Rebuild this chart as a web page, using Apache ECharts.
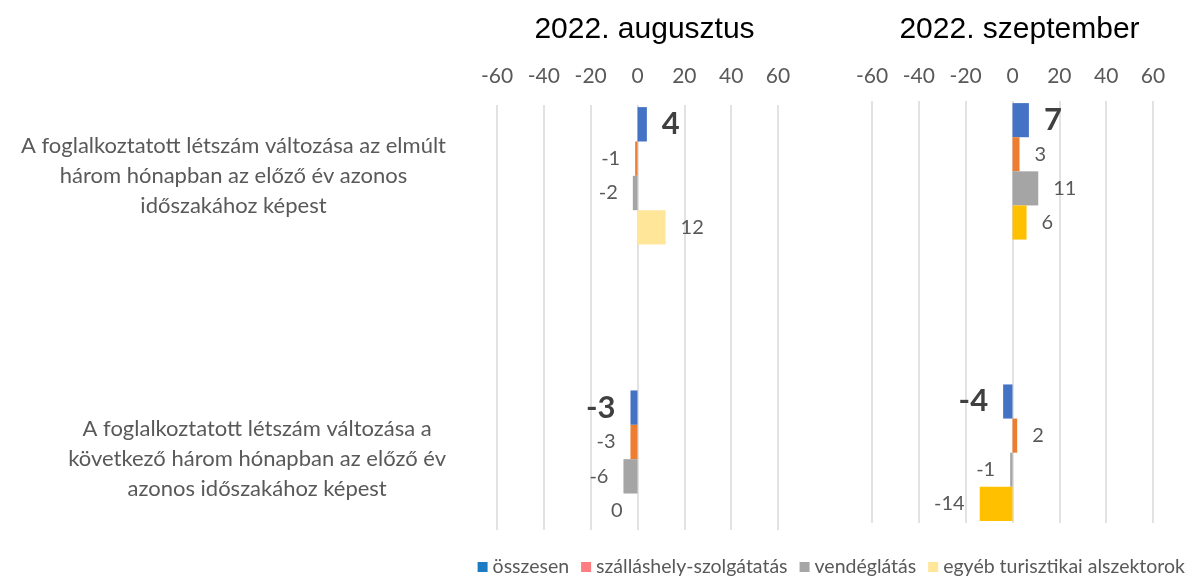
<!DOCTYPE html>
<html>
<head>
<meta charset="utf-8">
<script src="https://cdn.jsdelivr.net/npm/echarts@6/dist/echarts.min.js"></script>
<style>
html, body { margin: 0; padding: 0; background: #fff; }
#showChart { width: 1198px; height: 576px; }
</style>
</head>
<body>
<div id="showChart"></div>
<script>
var chartOutChar = null;

// kategóriák (a középső üres sor választja el a két csoportot)
var categories = [
    'A foglalkoztatott létszám változása az elmúlt\nhárom hónapban az előző év azonos\nidőszakához képest',
    '',
    'A foglalkoztatott létszám változása a\nkövetkező három hónapban az előző év\nazonos időszakához képest'
];
var periods = ['2022. augusztus', '2022. szeptember'];
var seriesNames = ['összesen', 'szálláshely-szolgátatás', 'vendéglátás', 'egyéb turisztikai alszektorok'];
var xTicks = [-60, -40, -20, 0, 20, 40, 60];

// augusztus
var augOsszesen = [4, null, -3];
var augSzallas = [-1, null, -3];
var augVendeg = [-2, null, -6];
var augEgyeb = [12, null, 0];
// szeptember
var szepOsszesen = [7, null, -4];
var szepSzallas = [3, null, 2];
var szepVendeg = [11, null, -1];
var szepEgyeb = [6, null, -14];

var barColors = [
    ['#4472C4', '#ED7D31', '#A5A5A5', '#FFE699'],
    ['#4472C4', '#ED7D31', '#A5A5A5', '#FFC000']
];
var legendColors = ['#1B7CC4', '#FF7C80', '#A6A6A6', '#FFE699'];

var gridPos = [
    {left: 497, top: 105, width: 281, height: 425},
    {left: 872, top: 101, width: 281, height: 422}
];
var tickMargins = [18, 14];

function makeData(arr) {
    return arr.map(function (v) {
        if (v === null) return '-';
        return {value: v, label: {position: v <= 0 ? 'left' : 'right'}};
    });
}

var panelData = [
    [augOsszesen, augSzallas, augVendeg, augEgyeb],
    [szepOsszesen, szepSzallas, szepVendeg, szepEgyeb]
];

var series = [];
panelData.forEach(function (panel, p) {
    panel.forEach(function (arr, i) {
        series.push({
            name: seriesNames[i],
            type: 'bar',
            xAxisIndex: p,
            yAxisIndex: p,
            barGap: '0%',
            barCategoryGap: '3%',
            itemStyle: {color: barColors[p][i]},
            label: {
                show: true,
                distance: 15,
                fontFamily: 'Lato',
                fontSize: i === 0 ? 31 : 20,
                fontWeight: i === 0 ? 'bold' : 'normal',
                color: i === 0 ? '#404040' : '#595959'
            },
            data: makeData(arr)
        });
    });
});

var xAxes = gridPos.map(function (g, p) {
    return {
        type: 'value',
        gridIndex: p,
        position: 'top',
        min: xTicks[0],
        max: xTicks[xTicks.length - 1],
        interval: 20,
        axisLine: {show: false},
        axisTick: {show: false},
        axisLabel: {
            margin: tickMargins[p],
            fontFamily: 'Lato',
            fontSize: 21,
            color: '#595959'
        },
        splitLine: {lineStyle: {color: '#D9D9D9', width: 1.5}}
    };
});

var yAxes = gridPos.map(function (g, p) {
    return {
        type: 'category',
        gridIndex: p,
        inverse: true,
        data: categories,
        axisLine: {show: false},
        axisTick: {show: false},
        axisLabel: {
            show: p === 0,
            align: 'right',
            margin: 51,
            formatter: function (value) {
                if (!value) return '';
                return value.split('\n').map(function (s) { return '{c|' + s + '}'; }).join('\n');
            },
            rich: {
                c: {
                    align: 'center',
                    fontFamily: 'Lato',
                    fontSize: 22,
                    lineHeight: 30,
                    color: '#595959'
                }
            }
        }
    };
});

var option1 = {
    animation: false,
    title: periods.map(function (t, p) {
        return {
            text: t,
            left: gridPos[p].left + gridPos[p].width / 2 + 2,
            top: 10,
            textAlign: 'center',
            textStyle: {
                fontFamily: 'Liberation Sans',
                fontSize: 30,
                fontWeight: 'normal',
                color: '#000'
            }
        };
    }),
    legend: {
        right: 8,
        top: 552,
        icon: 'rect',
        itemWidth: 10,
        itemHeight: 10,
        itemGap: 12,
        textStyle: {fontFamily: 'Lato', fontSize: 19.5, color: '#595959'},
        data: seriesNames.map(function (n, i) {
            return {name: n, itemStyle: {color: legendColors[i]}};
        })
    },
    grid: gridPos,
    xAxis: xAxes,
    yAxis: yAxes,
    series: series
};

chartOutChar = echarts.init(document.getElementById('showChart'));
chartOutChar.setOption(option1);
</script>
</body>
</html>
